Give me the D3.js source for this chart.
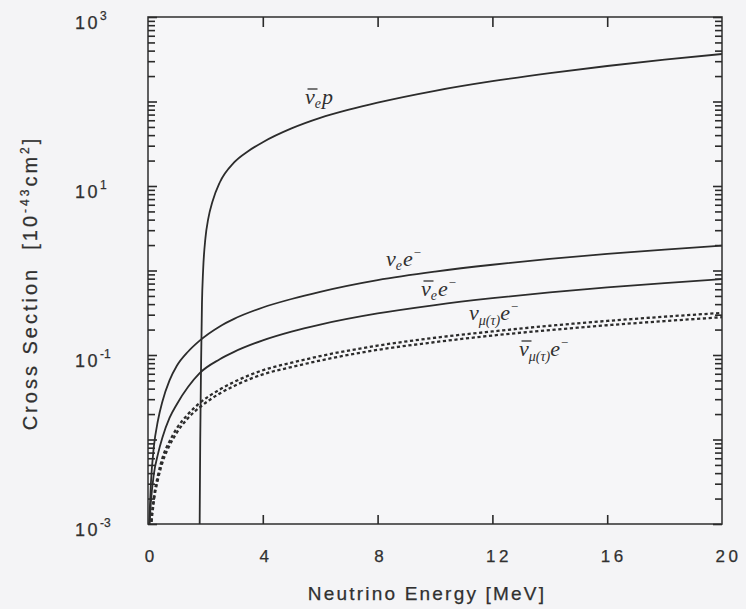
<!DOCTYPE html>
<html>
<head>
<meta charset="utf-8">
<script src="https://cdn.jsdelivr.net/npm/d3@7/dist/d3.min.js"></script>
<style>
  html, body { margin: 0; padding: 0; background: #f4f4f6; }
  svg { display: block; }
  .tick line { stroke: #2a2a2a; stroke-width: 1.6; }
</style>
</head>
<body>
<svg id="chart" width="746" height="609"></svg>
<script>
// Cross sections in units of 1e-43 cm^2 versus neutrino energy in MeV.

// anti-nu_e + p (inverse beta decay), threshold at 1.8 MeV
const ibdEnergy = [1.8, 1.82, 1.85, 1.88, 1.92, 2.0, 2.1, 2.25, 2.5, 3, 3.5, 4, 5, 6, 7, 8, 10, 12, 14, 16, 18, 20];
const ibdSigma  = [0.001, 0.01, 0.08, 0.4, 1.0, 2.4, 4.1, 6.6, 11, 19, 26, 33, 48, 64, 80, 97, 134, 174, 217, 263, 313, 365];

// shared energy grid for the electron-scattering channels
const esEnergy = [0.04, 0.1, 0.2, 0.35, 0.5, 0.75, 1.0, 1.4, 1.8, 2.5, 3, 4, 5, 6, 8, 10, 12, 14, 16, 18, 20];
const nueSigma     = [0.001, 0.003, 0.008, 0.017, 0.028, 0.05, 0.074, 0.11, 0.148, 0.218, 0.268, 0.365, 0.46, 0.56, 0.77, 0.97, 1.17, 1.37, 1.57, 1.77, 1.97];
const nuebarSigma  = [0.0008, 0.0018, 0.0038, 0.0068, 0.0105, 0.018, 0.026, 0.042, 0.061, 0.089, 0.109, 0.149, 0.189, 0.229, 0.31, 0.39, 0.47, 0.55, 0.63, 0.71, 0.79];
const numuSigma    = [0.0003, 0.0009, 0.002, 0.0038, 0.006, 0.0095, 0.0135, 0.02, 0.027, 0.039, 0.048, 0.066, 0.081, 0.097, 0.129, 0.16, 0.19, 0.222, 0.253, 0.284, 0.315];
const numubarSigma = [0.0003, 0.0008, 0.0018, 0.0034, 0.0053, 0.0085, 0.012, 0.018, 0.024, 0.035, 0.043, 0.059, 0.072, 0.086, 0.115, 0.142, 0.17, 0.197, 0.225, 0.252, 0.28];

// axis ticks
const xTickValues = [0, 4, 8, 12, 16, 20];
const yMajorValues = [1e-3, 1e-2, 1e-1, 1, 1e1, 1e2, 1e3];
const yLabelValues = [1e-3, 1e-1, 1e1, 1e3];
const minorSteps = [2, 3, 4, 5, 6, 7, 8, 9];

const svg = d3.select("#chart");
const plotL = 148, plotR = 722, plotT = 17, plotB = 524;

const x = d3.scaleLinear().domain([0, 20]).range([plotL, plotR]);
const y = d3.scaleLog().domain([1e-3, 1e3]).range([plotB, plotT]);

const yMinorValues = [];
yMajorValues.slice(0, -1).forEach(m => minorSteps.forEach(k => yMinorValues.push(k * m)));
const xInner = xTickValues.filter(v => v > 0 && v < 20);

const ink = "#2c2c2c";
const textInk = "#303030";

svg.append("defs").append("clipPath").attr("id", "plot-clip")
  .append("rect")
  .attr("x", plotL).attr("y", plotT)
  .attr("width", plotR - plotL).attr("height", plotB - plotT);

// plot frame
svg.append("rect")
  .attr("x", plotL).attr("y", plotT)
  .attr("width", plotR - plotL).attr("height", plotB - plotT)
  .attr("fill", "#f6f6f8").attr("stroke", "#3a3a3a").attr("stroke-width", 1.6);

function tickAxis(axis, tx, ty) {
  const g = svg.append("g").attr("transform", `translate(${tx},${ty})`).call(axis);
  g.select(".domain").remove();
  g.selectAll("text").remove();
  return g;
}

// inward ticks on all four sides; decade ticks longer than the minor ones
tickAxis(d3.axisRight(y).tickValues(yMajorValues).tickSize(9).tickFormat(""), plotL, 0);
tickAxis(d3.axisRight(y).tickValues(yMinorValues).tickSize(7).tickFormat(""), plotL, 0);
tickAxis(d3.axisLeft(y).tickValues(yMajorValues).tickSize(9).tickFormat(""), plotR, 0);
tickAxis(d3.axisLeft(y).tickValues(yMinorValues).tickSize(7).tickFormat(""), plotR, 0);
tickAxis(d3.axisTop(x).tickValues(xInner).tickSize(9).tickFormat(""), 0, plotB);
tickAxis(d3.axisBottom(x).tickValues(xInner).tickSize(10).tickFormat(""), 0, plotT);

// y tick labels: 10 with a superscript exponent
const yLab = svg.append("g").attr("transform", `translate(${plotL},0)`)
  .call(d3.axisLeft(y).tickValues(yLabelValues).tickSize(0).tickFormat(d => String(Math.round(Math.log10(d)))));
yLab.select(".domain").remove();
yLab.selectAll("text").each(function() {
  const t = d3.select(this);
  const exp = t.text();
  t.text(null)
    .attr("x", -73).attr("dy", null).attr("y", 11.5)
    .attr("text-anchor", "start")
    .attr("font-family", "Liberation Sans, Arial, sans-serif")
    .attr("font-size", 18).attr("fill", textInk)
    .attr("stroke", textInk).attr("stroke-width", 0.25);
  t.append("tspan").attr("letter-spacing", 2.5).text("10");
  t.append("tspan").attr("font-size", 12).attr("dy", -9).text(exp);
});

// x tick labels
const xLab = svg.append("g").attr("transform", `translate(0,${plotB})`)
  .call(d3.axisBottom(x).tickValues(xTickValues).tickSize(0).tickFormat(d3.format("d")));
xLab.select(".domain").remove();
xLab.selectAll("text")
  .attr("y", 38).attr("dy", null)
  .attr("dx", d => d >= 10 ? 6 : 1)
  .attr("letter-spacing", d => d >= 10 ? 3.5 : 0)
  .attr("font-family", "Liberation Sans, Arial, sans-serif")
  .attr("font-size", 17).attr("fill", textInk)
  .attr("stroke", textInk).attr("stroke-width", 0.25);

// curves
const curves = svg.append("g").attr("clip-path", "url(#plot-clip)");
const line = d3.line().x(d => x(d[0])).y(d => y(d[1])).curve(d3.curveMonotoneX);
function drawCurve(es, sig, dashed) {
  const pts = es.map((e, i) => [e, sig[i]]);
  curves.append("path")
    .datum(pts)
    .attr("d", line)
    .attr("fill", "none")
    .attr("stroke", ink)
    .attr("stroke-width", dashed ? 2.3 : 1.8)
    .attr("stroke-dasharray", dashed ? "3.2,2.6" : null);
}
// the inverse beta decay curve rises straight from the axis at threshold
drawCurve(ibdEnergy, ibdSigma, false);
drawCurve(esEnergy, nueSigma, false);
drawCurve(esEnergy, nuebarSigma, false);
drawCurve(esEnergy, numuSigma, true);
drawCurve(esEnergy, numubarSigma, true);

// curve labels; an antineutrino gets a bar drawn over the nu
const serif = "Liberation Serif, Times New Roman, serif";
function curveLabel(px, py, bar, parts) {
  const t = svg.append("text")
    .attr("x", px).attr("y", py)
    .attr("font-family", serif).attr("font-style", "italic")
    .attr("font-size", 22).attr("fill", textInk);
  parts.forEach(p => {
    const s = t.append("tspan").text(p.t);
    if (p.size) s.attr("font-size", p.size);
    if (p.dy) s.attr("dy", p.dy);
    if (p.dx) s.attr("dx", p.dx);
  });
  if (bar) {
    svg.append("line")
      .attr("x1", px + 2.5).attr("x2", px + 12.5)
      .attr("y1", py - 15).attr("y2", py - 15)
      .attr("stroke", textInk).attr("stroke-width", 1.3);
  }
}
const nu = "\u03BD";
curveLabel(305, 104, true,  [{t: nu}, {t: "e", size: 14, dy: 4}, {t: "p", dy: -4, dx: 1}]);
curveLabel(386, 266, false, [{t: nu}, {t: "e", size: 14, dy: 4}, {t: "e", dy: -4, dx: 1}, {t: "\u2212", size: 13, dy: -9}]);
curveLabel(421, 296, true,  [{t: nu}, {t: "e", size: 14, dy: 4}, {t: "e", dy: -4, dx: 1}, {t: "\u2212", size: 13, dy: -9}]);
curveLabel(469, 320, false, [{t: nu}, {t: "\u03BC(\u03C4)", size: 14, dy: 5}, {t: "e", dy: -5}, {t: "\u2212", size: 13, dy: -9}]);
curveLabel(519, 356, true,  [{t: nu}, {t: "\u03BC(\u03C4)", size: 14, dy: 5}, {t: "e", dy: -5}, {t: "\u2212", size: 13, dy: -9}]);

// axis titles
const sans = "Liberation Sans, Arial, sans-serif";
svg.append("text")
  .attr("x", 427).attr("y", 600)
  .attr("text-anchor", "middle")
  .attr("font-family", sans).attr("font-size", 19)
  .attr("letter-spacing", 2.2).attr("fill", textInk)
  .attr("stroke", textInk).attr("stroke-width", 0.25)
  .text("Neutrino Energy [MeV]");

const yt = svg.append("text")
  .attr("transform", "translate(37,283) rotate(-90)")
  .attr("text-anchor", "middle")
  .attr("style", "white-space:pre")
  .attr("font-family", sans).attr("font-size", 20)
  .attr("letter-spacing", 3).attr("fill", textInk)
  .attr("stroke", textInk).attr("stroke-width", 0.25);
yt.append("tspan").text("Cross Section  [10");
yt.append("tspan").attr("font-size", 12).attr("dy", -8).text("-43");
yt.append("tspan").attr("dy", 8).text("cm");
yt.append("tspan").attr("font-size", 12).attr("dy", -8).text("2");
yt.append("tspan").attr("dy", 8).text("]");
</script>
</body>
</html>
